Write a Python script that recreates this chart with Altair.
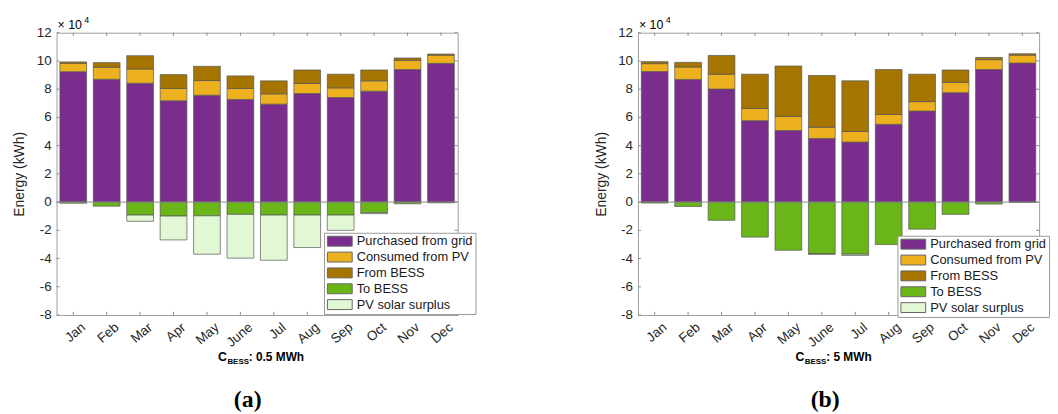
import altair as alt
import pandas as pd

months = ["Jan", "Feb", "Mar", "Apr", "May", "June", "Jul", "Aug", "Sep", "Oct", "Nov", "Dec"]
series = ["Purchased from grid", "Consumed from PV", "From BESS", "To BESS", "PV solar surplus"]
colors = ["#7B2D8E", "#EDB120", "#A57500", "#6AB517", "#E2F8D4"]
y_ticks = [-8, -6, -4, -2, 0, 2, 4, 6, 8, 10, 12]
y_labels = ["-8", "-6", "-4", "-2", "0", "2", "4", "6", "8", "10", "12"]

# Panel (a): C_BESS = 0.5 MWh, energy in 10^4 kWh
a_grid = [9.24, 8.70, 8.42, 7.18, 7.57, 7.27, 6.94, 7.69, 7.41, 7.86, 9.39, 9.83]
a_pv = [0.59, 0.85, 1.01, 0.87, 1.04, 0.78, 0.73, 0.71, 0.68, 0.73, 0.65, 0.57]
a_bess = [0.10, 0.33, 0.94, 0.98, 1.01, 0.89, 0.92, 0.96, 0.97, 0.77, 0.17, 0.09]
a_to = [-0.08, -0.29, -0.92, -0.99, -0.97, -0.87, -0.92, -0.92, -0.92, -0.75, -0.12, -0.05]
a_surplus = [0, 0, -0.44, -1.69, -2.72, -3.10, -3.20, -2.30, -1.08, -0.07, 0, 0]

# Panel (b): C_BESS = 5 MWh
b_grid = [9.25, 8.69, 8.01, 5.77, 5.07, 4.51, 4.25, 5.51, 6.45, 7.75, 9.39, 9.85]
b_pv = [0.56, 0.88, 1.05, 0.86, 1.00, 0.79, 0.75, 0.70, 0.67, 0.73, 0.70, 0.56]
b_bess = [0.14, 0.33, 1.33, 2.43, 3.57, 3.67, 3.59, 3.18, 1.94, 0.88, 0.16, 0.10]
b_to = [-0.07, -0.31, -1.29, -2.48, -3.41, -3.67, -3.69, -3.01, -1.92, -0.87, -0.14, -0.02]
b_surplus = [0, 0, 0, 0, 0, -0.02, -0.09, 0, 0, 0, 0, 0]

W, H = 405, 285
FONT = "Liberation Sans"
TXT = "#262626"
GRAY = "#8c8c8c"


def text_layer(t, x, y, size, weight="normal", font=FONT, align="left", baseline="alphabetic"):
    return alt.Chart(pd.DataFrame({"t": [t]})).mark_text(
        font=font, fontSize=size, fontWeight=weight, align=align, baseline=baseline, color="black"
    ).encode(x=alt.value(x), y=alt.value(y), text="t:N")


def panel(vals, legx, legy, cap, tag, tagx, capx):
    rows = []
    for i, m in enumerate(months):
        for k, s in enumerate(series):
            v = vals[k][i]
            if v != 0:
                rows.append({"month": m, "series": s, "value": v, "order": k})
    df = pd.DataFrame(rows)

    xaxis = alt.Axis(ticks=False, domain=False, labelAngle=-40, labelAlign="right",
                     labelBaseline="top", labelPadding=5, labelOffset=6, labelOverlap=False,
                     labelFont=FONT, labelFontSize=13.5, labelColor=TXT, title=None)
    xscale = alt.Scale(paddingInner=0.2, paddingOuter=0.1)
    yscale = alt.Scale(domain=[-8, 12], nice=False, zero=False)
    yaxis = alt.Axis(values=y_ticks, ticks=False, domain=False, grid=False, labels=False,
                     title="Energy (kWh)", titleX=-30, titleY=H / 2, titleBaseline="bottom",
                     titleFont=FONT, titleFontSize=14, titleFontWeight="normal",
                     titleColor=TXT)

    def X():
        return alt.X("month:N", sort=months, scale=xscale, axis=xaxis)

    def Y():
        return alt.Y("value:Q", scale=yscale, axis=yaxis)

    bars = alt.Chart(df).mark_bar(stroke="#555555", strokeWidth=0.7).encode(
        x=X(),
        y=alt.Y("value:Q", stack="zero", scale=yscale, axis=yaxis),
        color=alt.Color("series:N", sort=series, scale=alt.Scale(domain=series, range=colors),
                        legend=alt.Legend(orient="none", legendX=legx, legendY=legy, title=None,
                                          symbolType="M-1,-1H4V1H-1Z", symbolSize=100,
                                          symbolStrokeColor="#666666", symbolStrokeWidth=1,
                                          labelFont=FONT, labelFontSize=13, labelColor="#1a1a1a",
                                          labelOffset=18, padding=2, rowPadding=1,
                                          strokeColor="#9a9a9a", fillColor="white")),
        order=alt.Order("order:Q"),
    )

    zero = alt.Chart(pd.DataFrame({"value": [0]})).mark_rule(color=GRAY, strokeWidth=1).encode(
        y=Y())

    mdf = pd.DataFrame({"month": months})
    xt_bot = alt.Chart(mdf).mark_rule(color=GRAY).encode(
        x=X(), y=alt.datum(-8), y2=alt.datum(-7.78))
    xt_top = alt.Chart(mdf).mark_rule(color=GRAY).encode(
        x=X(), y=alt.datum(12), y2=alt.datum(11.78))
    ydf = pd.DataFrame({"value": y_ticks, "lab": y_labels})
    yt_left = alt.Chart(ydf).mark_rule(color=GRAY).encode(
        y=Y(), x=alt.value(0), x2=alt.value(3))
    yt_right = alt.Chart(ydf).mark_rule(color=GRAY).encode(
        y=Y(), x=alt.value(W - 3), x2=alt.value(W))
    ylabels = alt.Chart(ydf).mark_text(font=FONT, fontSize=13.5, color=TXT, align="right",
                                       baseline="middle").encode(
        y=Y(), x=alt.value(-5), text="lab:N")

    exp1 = text_layer("× 10", 1, -4, 12.5)
    exp2 = text_layer("4", 28, -10, 9)

    c1 = text_layer("C", capx, 331, 12.5, "bold")
    c2 = text_layer("BESS", capx + 9.5, 334, 8, "bold")
    c3 = text_layer(cap, capx + 31, 331, 12, "bold")

    lab = text_layer(tag, tagx, 371, 24, "bold", font="Liberation Serif", align="center",
                     baseline="middle")

    return alt.layer(bars, zero, xt_bot, xt_top, yt_left, yt_right, ylabels,
                     exp1, exp2, c1, c2, c3, lab).properties(width=W, height=H)


pa = panel([a_grid, a_pv, a_bess, a_to, a_surplus], 270, 202, ": 0.5 MWh", "(a)", 193, 163)
pb = panel([b_grid, b_pv, b_bess, b_to, b_surplus], 262, 205, ": 5 MWh", "(b)", 189, 159)

chart = alt.hconcat(pa, pb, spacing=182, bounds="flush").resolve_scale(
    color="independent", x="independent", y="independent"
).resolve_legend(color="independent").properties(
    padding={"left": 4, "top": 5, "right": 0, "bottom": 0}
).configure_view(stroke="#a0a0a0", strokeWidth=1)

chart.save("out.html", embed_options={"renderer": "svg", "actions": False})
